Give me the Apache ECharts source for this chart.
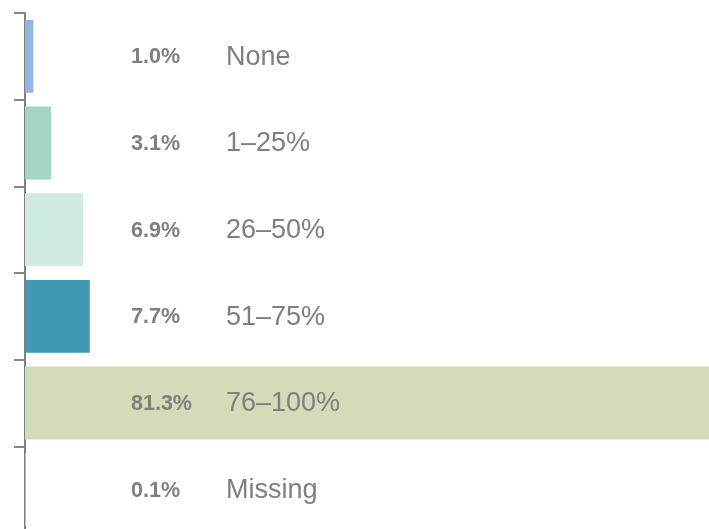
<!DOCTYPE html>
<html>
<head>
<meta charset="utf-8">
<script src="https://cdn.jsdelivr.net/npm/echarts@6/dist/echarts.min.js"></script>
<style>
  html, body { margin: 0; padding: 0; background: #fff; }
  #main { width: 709px; height: 529px; }
</style>
</head>
<body>
<div id="main"></div>
<script>
var categories = ["None", "1–25%", "26–50%", "51–75%", "76–100%", "Missing"];
var shares = [1.0, 3.1, 6.9, 7.7, 81.3, 0.1];
var barColors = ["#94b6e2", "#a3d7c1", "#d0ebe1", "#3f99b3", "#d2dcb8", "#c8c8c8"];

var font = "'Liberation Sans', Arial, sans-serif";
var grey = "#7f7f7f";

var myChart = echarts.init(document.getElementById("main"));

var option = {
  animation: false,
  grid: {
    left: 25,
    right: 0,
    top: 13,
    height: 520,
    outerBoundsMode: "none",
    containLabel: false
  },
  xAxis: {
    type: "value",
    min: 0,
    max: 81.3,
    show: false
  },
  yAxis: {
    type: "category",
    inverse: true,
    data: categories,
    offset: 1,
    axisLine: { show: true, lineStyle: { color: grey, width: 2 } },
    axisTick: { show: true, length: 11, alignWithLabel: false, lineStyle: { color: "#888", width: 2 } },
    axisLabel: { show: false },
    splitLine: { show: false }
  },
  series: [
    {
      type: "bar",
      barCategoryGap: "16%",
      data: shares.map(function (v, i) {
        return { value: v, itemStyle: { color: barColors[i] } };
      }),
      label: {
        show: true,
        position: [106, "50%"],
        verticalAlign: "middle",
        align: "left",
        offset: [0, 1],
        formatter: function (p) {
          return "{p|" + p.value.toFixed(1) + "%}{c|" + p.name + "}";
        },
        rich: {
          p: { width: 95, fontFamily: font, fontWeight: "bold", fontSize: 21.5, color: grey },
          c: { fontFamily: font, fontSize: 27, color: grey }
        }
      }
    }
  ]
};

myChart.setOption(option);
</script>
</body>
</html>
